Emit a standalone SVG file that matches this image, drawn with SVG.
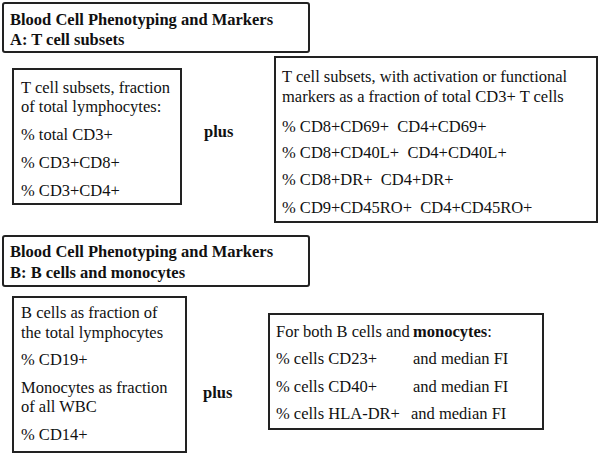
<svg xmlns="http://www.w3.org/2000/svg" width="600" height="455" viewBox="0 0 600 455">
<style>
.box{fill:#fff;stroke:#222;stroke-width:2}
.t{font-family:"Liberation Serif","Times New Roman",serif;font-size:16.5px;fill:#111;white-space:pre}
.b{font-weight:bold}
</style>
<rect x="0" y="0" width="600" height="455" fill="#fff"/>
<g id="titleA">
<rect class="box" x="3" y="3" width="306" height="49" rx="2"/>
<text class="t b" x="10" y="25">Blood Cell Phenotyping and Markers</text>
<text class="t b" x="10" y="45">A: T cell subsets</text>
</g>
<g id="boxA1">
<rect class="box" x="13" y="69" width="168" height="135"/>
<text class="t" x="21" y="93">T cell subsets, fraction</text>
<text class="t" x="21" y="112">of total lymphocytes:</text>
<text class="t" x="21" y="140">% total CD3+</text>
<text class="t" x="21" y="168">% CD3+CD8+</text>
<text class="t" x="21" y="196">% CD3+CD4+</text>
</g>
<g id="plusA">
<text class="t b" x="204" y="137">plus</text>
</g>
<g id="boxA2">
<rect class="box" x="275" y="57" width="322" height="165"/>
<text class="t" x="282" y="82">T cell subsets, with activation or functional</text>
<text class="t" x="282" y="102">markers as a fraction of total CD3+ T cells</text>
<text class="t" x="282" y="132" xml:space="preserve">% CD8+CD69+  CD4+CD69+</text>
<text class="t" x="282" y="158" xml:space="preserve">% CD8+CD40L+  CD4+CD40L+</text>
<text class="t" x="282" y="185" xml:space="preserve">% CD8+DR+  CD4+DR+</text>
<text class="t" x="282" y="213" xml:space="preserve">% CD9+CD45RO+  CD4+CD45RO+</text>
</g>
<g id="titleB">
<rect class="box" x="3" y="236" width="306" height="50" rx="2"/>
<text class="t b" x="10" y="257">Blood Cell Phenotyping and Markers</text>
<text class="t b" x="10" y="278">B: B cells and monocytes</text>
</g>
<g id="boxB1">
<rect class="box" x="13" y="297" width="173" height="155"/>
<text class="t" x="21" y="318">B cells as fraction of</text>
<text class="t" x="21" y="338">the total lymphocytes</text>
<text class="t" x="21" y="365">% CD19+</text>
<text class="t" x="21" y="393">Monocytes as fraction</text>
<text class="t" x="21" y="412">of all WBC</text>
<text class="t" x="21" y="440">% CD14+</text>
</g>
<g id="plusB">
<text class="t b" x="203" y="398">plus</text>
</g>
<g id="boxB2">
<rect class="box" x="269" y="314" width="274" height="115"/>
<text class="t" x="276" y="337">For both B cells and<tspan class="b" x="413">monocytes</tspan>:</text>
<text class="t" x="276" y="364">% cells CD23+</text>
<text class="t" x="413" y="364">and median FI</text>
<text class="t" x="276" y="392">% cells CD40+</text>
<text class="t" x="413" y="392">and median FI</text>
<text class="t" x="276" y="419">% cells HLA-DR+</text>
<text class="t" x="411" y="419">and median FI</text>
</g>
<g id="connectors"></g>
</svg>
